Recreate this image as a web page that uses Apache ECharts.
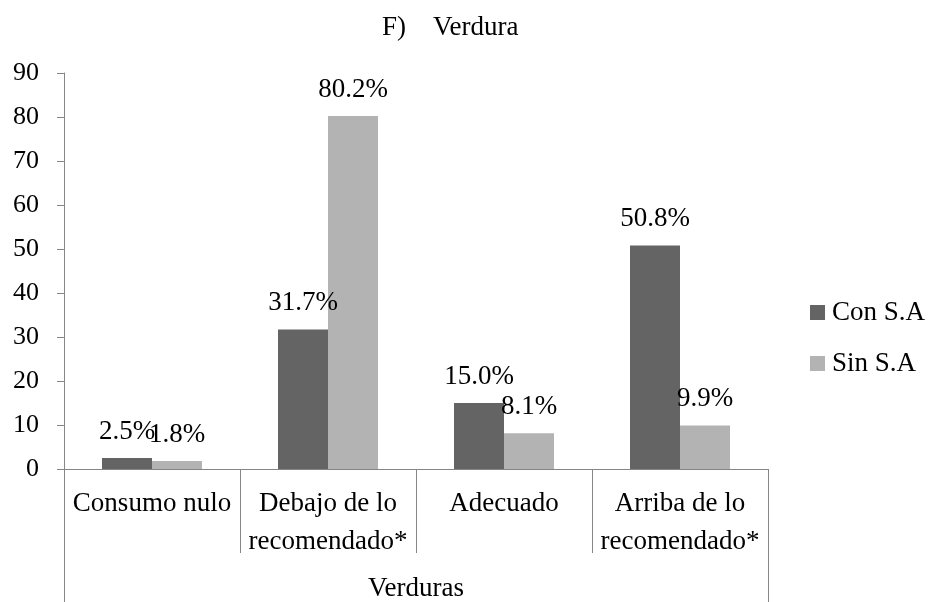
<!DOCTYPE html>
<html lang="es">
<head>
    <meta charset="UTF-8">
    <title>Verdura</title>
    <script src="https://cdn.jsdelivr.net/npm/echarts@6/dist/echarts.min.js"></script>
</head>
<body style="margin:0">
<div id="mybox" style="height: 602px;width: 930px;"></div>
<script>
    // datos
    var categorias = ['Consumo nulo', 'Debajo de lo\nrecomendado*', 'Adecuado', 'Arriba de lo\nrecomendado*'];
    var grupo = ['Verduras'];
    var conSA = [2.5, 31.7, 15.0, 50.8];
    var sinSA = [1.8, 80.2, 8.1, 9.9];
    var series_nombres = ['Con S.A', 'Sin S.A'];

    var fuente = "'Liberation Serif', 'DejaVu Serif', serif";
    var gris = '#868686';

    var mychart = echarts.init(document.getElementById('mybox'));
    mychart.setOption({
        animation: false,
        textStyle: { fontFamily: fuente },
        title: {
            text: 'F)    Verdura',
            left: 382,
            top: 14,
            padding: 0,
            textStyle: { fontFamily: fuente, fontSize: 27, fontWeight: 'normal', color: '#000' }
        },
        legend: {
            data: series_nombres,
            orient: 'vertical',
            left: 805,
            top: 294,
            itemWidth: 15,
            itemHeight: 15,
            itemGap: 24,
            icon: 'rect',
            textStyle: { fontFamily: fuente, fontSize: 27, color: '#000', lineHeight: 26, padding: [0, 0, 0, 2] }
        },
        grid: { left: 64, right: 162, top: 73, bottom: 133 },
        xAxis: [{
            type: 'category',
            data: categorias,
            axisLine: { lineStyle: { color: gris } },
            axisTick: { show: true, interval: 0, length: 84, lineStyle: { color: gris } },
            axisLabel: { interval: 0, margin: 16, fontSize: 27, lineHeight: 38, color: '#000', fontFamily: fuente }
        }, {
            type: 'category',
            data: grupo,
            position: 'bottom',
            offset: 84,
            axisLine: { show: false },
            axisTick: { show: true, interval: 0, length: 49, lineStyle: { color: gris } },
            axisLabel: { margin: 22, fontSize: 27, color: '#000', fontFamily: fuente }
        }],
        yAxis: {
            type: 'value',
            min: 0,
            max: 90,
            interval: 10,
            axisLine: { show: true, lineStyle: { color: gris } },
            axisTick: { show: true, length: 7, lineStyle: { color: gris } },
            splitLine: { show: false },
            axisLabel: { margin: 25, fontSize: 26, color: '#000', fontFamily: fuente }
        },
        series: [{
            name: series_nombres[0],
            type: 'bar',
            data: conSA,
            barWidth: 50,
            barGap: '0%',
            itemStyle: { color: '#646464' },
            label: {
                show: true, position: 'top', distance: 13,
                fontSize: 27, color: '#000', fontFamily: fuente,
                formatter: function (p) { return p.value.toFixed(1) + '%'; }
            }
        }, {
            name: series_nombres[1],
            type: 'bar',
            data: sinSA,
            barWidth: 50,
            barGap: '0%',
            itemStyle: { color: '#b3b3b3' },
            label: {
                show: true, position: 'top', distance: 13,
                fontSize: 27, color: '#000', fontFamily: fuente,
                formatter: function (p) { return p.value.toFixed(1) + '%'; }
            }
        }]
    });
</script>
</body>
</html>
